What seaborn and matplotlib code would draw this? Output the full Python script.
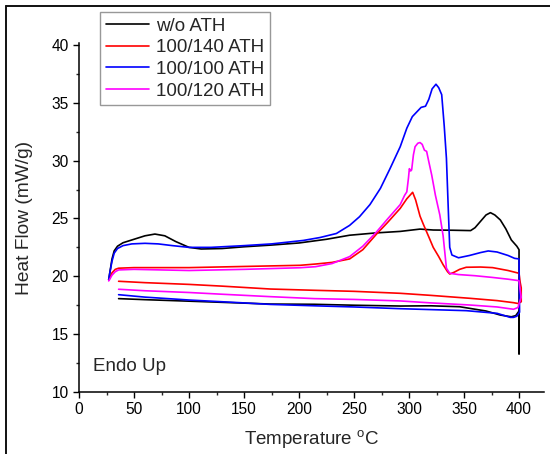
import matplotlib
matplotlib.use("Agg")
import matplotlib.pyplot as plt
from matplotlib.lines import Line2D
from matplotlib.ticker import MultipleLocator
import seaborn as sns
import pandas as pd

# ---- data ----
series_names = ["w/o ATH", "100/140 ATH", "100/100 ATH", "100/120 ATH"]
series_colors = ["#000000", "#ff0000", "#0000ff", "#ff00ff"]

T_black = [27, 28, 30, 32, 35, 40, 50, 60, 69, 78, 88, 100, 111, 130, 150, 175, 200, 225, 246, 270, 292,
           310, 322, 340, 356, 360, 365, 370, 374, 378, 383, 388, 393, 398, 400, 400, 400, 397, 393, 383,
           370, 346, 320, 292, 250, 214, 174, 130, 100, 60, 36]
HF_black = [19.7, 20.3, 21.5, 22.2, 22.6, 22.9, 23.2, 23.5, 23.65, 23.5, 23.0, 22.5, 22.36, 22.4, 22.55, 22.7,
            22.88, 23.2, 23.55, 23.75, 23.88, 24.08, 24.0, 23.98, 23.95, 24.2, 24.75, 25.3, 25.5, 25.3, 24.87,
            24.1, 23.14, 22.6, 22.3, 13.3, 17.0, 16.6, 16.5, 16.65, 17.0, 17.37, 17.45, 17.43, 17.5, 17.58,
            17.6, 17.75, 17.85, 17.98, 18.07]

T_red = [27, 28, 30, 33, 36, 50, 100, 150, 201, 215, 230, 246, 258, 270, 280, 292, 298, 303.3, 306, 310,
         313, 318, 322, 327, 331, 335, 337, 341, 346, 352, 365, 376, 390, 400, 401, 402, 402, 399, 395, 380,
         355, 320, 292, 250, 214, 174, 130, 100, 60, 36]
HF_red = [19.7, 19.9, 20.3, 20.6, 20.7, 20.75, 20.75, 20.85, 20.95, 21.06, 21.2, 21.5, 22.3, 23.6, 24.6,
          25.87, 26.7, 27.26, 26.6, 25.2, 24.5, 23.4, 22.5, 21.7, 21.0, 20.4, 20.2, 20.35, 20.6, 20.78, 20.8,
          20.75, 20.5, 20.26, 19.5, 19.0, 17.8, 17.65, 17.72, 17.9, 18.1, 18.35, 18.53, 18.7, 18.79, 18.9,
          19.15, 19.3, 19.45, 19.57]

T_blue = [27, 28, 30, 32, 35, 40, 48, 60, 72, 85, 100, 120, 150, 175, 204, 219, 234, 246, 255, 264.5, 274,
          282.7, 292, 298, 303, 307, 311, 315, 318, 321, 324.5, 327, 329.7, 332, 334, 336, 337, 339, 345,
          355, 365, 372, 380, 390, 396, 400, 400.5, 398, 395, 392, 380, 352, 292, 250, 214, 174, 150, 100,
          60, 36]
HF_blue = [19.7, 20.3, 21.3, 22.0, 22.4, 22.65, 22.8, 22.85, 22.8, 22.65, 22.5, 22.5, 22.65, 22.8, 23.1,
           23.35, 23.7, 24.4, 25.15, 26.2, 27.6, 29.3, 31.2, 32.8, 33.8, 34.2, 34.6, 34.7, 35.3, 36.2, 36.6,
           36.3, 35.7, 33.0, 30.2, 25.0, 22.5, 21.84, 21.6, 21.8, 22.05, 22.19, 22.1, 21.8, 21.55, 21.5,
           16.9, 16.55, 16.45, 16.45, 16.8, 17.03, 17.2, 17.35, 17.45, 17.57, 17.7, 17.95, 18.2, 18.41]

T_mag = [27, 28, 30, 33, 36, 50, 100, 150, 201, 215, 230, 246, 258, 270.6, 280, 292, 296, 298, 299.5, 300.3,
         301.5, 302.4, 304, 305.5, 308, 310, 312, 314, 316, 318, 320.6, 324, 328, 331, 334, 337, 345, 360,
         376, 390, 400, 401, 402, 399, 395, 380, 355, 320, 292, 250, 214, 174, 130, 100, 60, 36]
HF_mag = [19.6, 19.75, 20.1, 20.4, 20.55, 20.6, 20.5, 20.6, 20.74, 20.83, 21.1, 21.7, 22.6, 23.85, 24.9,
          26.2, 27.0, 27.3, 28.5, 29.3, 29.1, 29.2, 30.5, 31.2, 31.5, 31.56, 31.4, 30.9, 30.8, 29.9, 28.76,
          27.0, 25.3, 23.5, 20.7, 20.26, 20.15, 20.05, 19.9, 19.75, 19.62, 18.8, 18.2, 17.3, 17.15, 17.35,
          17.52, 17.7, 17.87, 18.0, 18.07, 18.24, 18.45, 18.6, 18.75, 18.88]

x_ticks = [0, 50, 100, 150, 200, 250, 300, 350, 400]
y_ticks = [10, 15, 20, 25, 30, 35, 40]

frames = []
for name, T, H in zip(series_names, [T_black, T_red, T_blue, T_mag], [HF_black, HF_red, HF_blue, HF_mag]):
    frames.append(pd.DataFrame({"T": T, "HF": H, "Sample": name}))
df = pd.concat(frames, ignore_index=True)

# ---- style ----
sns.set_style("ticks")
plt.rcParams["font.family"] = ["Liberation Sans", "DejaVu Sans"]
plt.rcParams["mathtext.fontset"] = "custom"
plt.rcParams["mathtext.rm"] = "Liberation Sans"

fig = plt.figure(figsize=(5.5, 4.54), dpi=100, facecolor="white")
ax = fig.add_axes([79 / 550, 1 - 392 / 454, (544 - 79) / 550, (392 - 43.5) / 454])

sns.lineplot(data=df, x="T", y="HF", hue="Sample", palette=dict(zip(series_names, series_colors)),
             sort=False, estimator=None, linewidth=1.2, ax=ax, legend=False)

ax.set_xlim(0, 422.7)
ax.set_ylim(10, 40.12)
ax.set_xticks(x_ticks)
ax.set_yticks(y_ticks)
ax.xaxis.set_minor_locator(MultipleLocator(25))
ax.yaxis.set_minor_locator(MultipleLocator(2.5))
ax.tick_params(which="major", direction="out", length=4, width=1.0, labelsize=11.2, colors="#000000")
ax.tick_params(which="minor", direction="out", length=2.5, width=1.0)
for s in ["top", "right"]:
    ax.spines[s].set_visible(False)
for s in ["left", "bottom"]:
    ax.spines[s].set_linewidth(1.1)
    ax.spines[s].set_color("#000000")

ax.set_xlabel("Temperature $^{\\mathregular{o}}$C", fontsize=13.5, labelpad=8)
ax.set_ylabel("Heat Flow (mW/g)", fontsize=13.8, labelpad=13)
ax.text(13, 12.2, "Endo Up", fontsize=13.5, va="center", ha="left")

handles = [Line2D([0], [0], color=c, lw=1.2) for c in series_colors]
leg = fig.legend(handles, series_names, loc="upper left", bbox_to_anchor=(100 / 550, 1 - 12 / 454),
                 bbox_transform=fig.transFigure, borderaxespad=0, fontsize=13.5, frameon=True,
                 fancybox=False, edgecolor="#7f7f7f", handlelength=2.3, handletextpad=0.4,
                 labelspacing=0.24, borderpad=0.3)
leg.get_frame().set_linewidth(1.0)

# outer frame lines (top and left)
fig.add_artist(Line2D([6 / 550, 1], [1 - 6 / 454, 1 - 6 / 454], transform=fig.transFigure, color="#111111", lw=1.4))
fig.add_artist(Line2D([6 / 550, 6 / 550], [0, 1 - 6 / 454], transform=fig.transFigure, color="#111111", lw=1.4))

fig.savefig("out.png", dpi=100, facecolor="white")
